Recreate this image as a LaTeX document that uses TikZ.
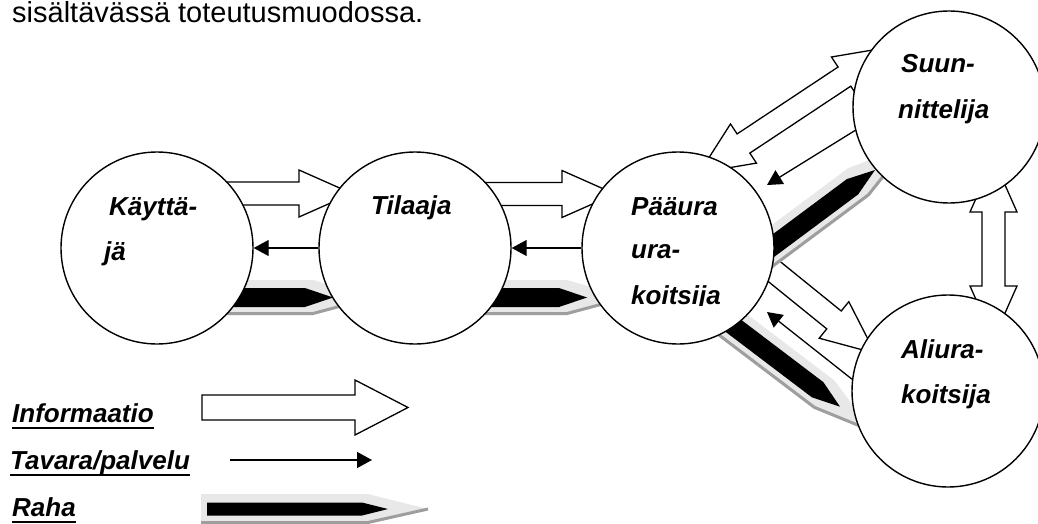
\documentclass[tikz,border=0pt]{standalone}
\usepackage{fontspec}
\setmainfont{Liberation Sans}
\usetikzlibrary{calc,arrows.meta}
\begin{document}
\begin{tikzpicture}[x=1pt,y=-1pt,
  circ/.style={circle,draw,fill=white,line width=1.4pt,minimum size=192pt,inner sep=0pt},
  lab/.style={anchor=base west,inner sep=0pt,font=\fontsize{26}{30}\selectfont\bfseries\itshape},
  infostyle/.style={draw,fill=white,line width=1.3pt,line join=miter},
  tavara/.style={line width=1.3pt,-{Triangle[length=15pt,width=16pt]}},
  rahalight/.style={fill=black!9},
  rahadark/.style={draw=black!38,line width=3pt},
  uline/.style={line width=2.2pt}
]
\useasboundingbox (0,0) rectangle (1038,524);

\newcommand\InfoArrow[4]{%
  \coordinate (ib) at ($(#2)!53pt!(#1)$);
  \draw[infostyle] ($(#1)!#3!90:(#2)$) -- ($(ib)!#3!90:(#2)$) -- ($(ib)!#4!90:(#2)$) -- (#2)
    -- ($(ib)!#4!-90:(#2)$) -- ($(ib)!#3!-90:(#2)$) -- ($(#1)!#3!-90:(#2)$) -- cycle;}
\newcommand\InfoDouble[2]{%
  \coordinate (ia) at ($(#1)!53pt!(#2)$);
  \coordinate (ib) at ($(#2)!53pt!(#1)$);
  \draw[infostyle] (#1) -- ($(ia)!23.5pt!90:(#2)$) -- ($(ia)!11.5pt!90:(#2)$) -- ($(ib)!11.5pt!90:(#2)$)
    -- ($(ib)!23.5pt!90:(#2)$) -- (#2) -- ($(ib)!23.5pt!-90:(#2)$) -- ($(ib)!11.5pt!-90:(#2)$)
    -- ($(ia)!11.5pt!-90:(#2)$) -- ($(ia)!23.5pt!-90:(#2)$) -- cycle;}
\newcommand\RahaArrow[6]{%
  \coordinate (rb) at ($(#2)!#5!(#1)$);
  \coordinate (rg) at ($(#2)!-40pt!(#1)$);
  \coordinate (rh) at ($(#2)!20pt!(#1)$);
  \coordinate (rs) at ($(#1)!-6pt!(#2)$);
  \fill[rahalight] ($(rs)!#4!90:(#2)$) -- ($(rh)!#4!90:(#2)$) -- (rg) -- ($(rh)!#4!-90:(#2)$)
    -- ($(rs)!#4!-90:(#2)$) -- cycle;
  \draw[rahadark] ($(rs)!#6!-90:(#2)$) -- ($(rh)!#6!-90:(#2)$) -- (rg);
  \fill ($(#1)!#3!90:(#2)$) -- ($(rb)!#3!90:(#2)$) -- (#2) -- ($(rb)!#3!-90:(#2)$)
    -- ($(#1)!#3!-90:(#2)$) -- cycle;}

% top text
\node[anchor=base west,inner sep=0pt,font=\fontsize{29}{32}\selectfont] (top) at (12,23) {sisältävässä toteutusmuodossa.};

% information arrows
\coordinate (i1s) at (157,193.5); \coordinate (i1e) at (352,193.5);
\coordinate (i2s) at (415,194);   \coordinate (i2e) at (615,194);
\coordinate (i3a) at (699.3,172.8); \coordinate (i3b) at (888.6,47.3);
\coordinate (i4s) at (719.8,227.5); \coordinate (i4e) at (875.2,353.3);
\coordinate (i5a) at (993.5,159); \coordinate (i5b) at (993.5,339);
\InfoArrow{i1s}{i1e}{11.5pt}{23.5pt}
\InfoArrow{i2s}{i2e}{11.5pt}{23.5pt}
\InfoArrow{i4s}{i4e}{11.5pt}{23.5pt}
\InfoDouble{i3a}{i3b}
\InfoDouble{i5a}{i5b}

% money arrows
\coordinate (r1s) at (157,297.5); \coordinate (r1e) at (333,297.5);
\coordinate (r2s) at (415,297.5); \coordinate (r2e) at (587,297.5);
\coordinate (r3s) at (746.7,265.5); \coordinate (r3e) at (875,170);
\coordinate (r4s) at (712.5,310); \coordinate (r4e) at (840,406.7);
\RahaArrow{r1s}{r1e}{9.5pt}{17.5pt}{28pt}{16pt}
\RahaArrow{r2s}{r2e}{9.5pt}{17.5pt}{28pt}{16pt}
\RahaArrow{r3s}{r3e}{9.5pt}{17.5pt}{28pt}{16pt}
\RahaArrow{r4s}{r4e}{9.5pt}{17.5pt}{28pt}{16pt}

% circles
\node[circ] (kayttaja) at (157,248) {};
\node[circ] (tilaaja) at (415,248) {};
\node[circ] (paa) at (678,248) {};
\node[circ] (suun) at (949,107) {};
\node[circ] (aliura) at (948,391) {};

% goods / service arrows
\draw[tavara] (tilaaja) -- (kayttaja);
\draw[tavara] (paa) -- (tilaaja);
\coordinate (t3e) at (767,185);
\draw[tavara] (suun.194.7) -- (t3e);
\coordinate (t4e) at (767,312);
\draw[tavara] (aliura.173.5) -- (t4e);

% labels
\node[lab] (k1) at (109,215) {Käyttä-};
\node[lab] (k2) at (104,260) {jä};
\node[lab] (t1) at (371,214) {Tilaaja};
\node[lab] (p1) at (631,215) {Pääura};
\node[lab] (p2) at (631,258) {ura-};
\begin{scope}
  \clip (600,270) rectangle (770,305.5);
  \node[lab] (p3) at (631,304) {koitsija};
\end{scope}
\node[lab] (s1) at (901,73) {Suun-};
\node[lab] (s2) at (898,118) {nittelija};
\node[lab] (a1) at (901,358) {Aliura-};
\node[lab] (a2) at (901,403) {koitsija};

% legend
\node[lab] (linf) at (12,422) {Informaatio};
\draw[uline] ([yshift=-6pt]linf.base west) -- ([yshift=-6pt]linf.base east);
\node[lab] (ltav) at (10,469) {Tavara/palvelu};
\draw[uline] ([yshift=-6pt]ltav.base west) -- ([yshift=-6pt]ltav.base east);
\node[lab] (lrah) at (12,516) {Raha};
\draw[uline] ([yshift=-6pt]lrah.base west) -- ([yshift=-6pt]lrah.base east);

\coordinate (li1) at (202,407.5); \coordinate (li2) at (408,407.5);
\InfoArrow{li1}{li2}{12.5pt}{27.5pt}
\coordinate (lt1) at (230,460); \coordinate (lt2) at (372,460);
\draw[tavara] (lt1) -- (lt2);
\coordinate (lr1) at (207,509); \coordinate (lr2) at (388,509);
\RahaArrow{lr1}{lr2}{6.5pt}{15pt}{26pt}{13.5pt}
\end{tikzpicture}
\end{document}
